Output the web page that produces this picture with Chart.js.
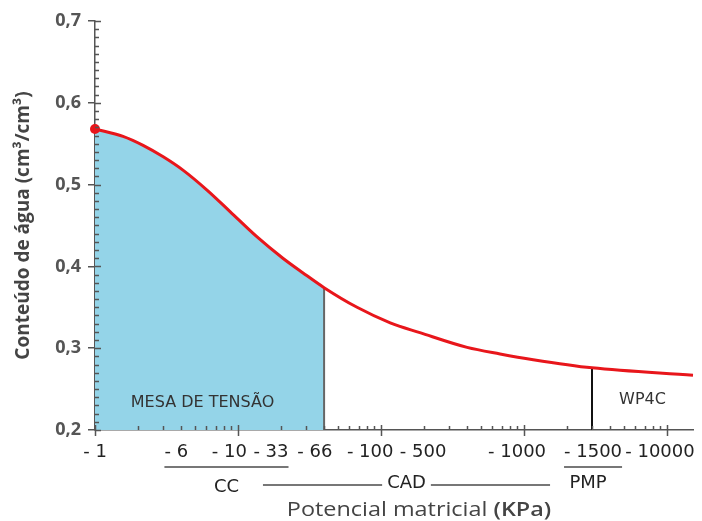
<!DOCTYPE html>
<html>
<head>
<meta charset="utf-8">
<title>Curva de retenção</title>
<script src="https://cdn.jsdelivr.net/npm/chart.js@4.4.1/dist/chart.umd.min.js"></script>
<style>
  body { margin: 0; background: #fff; }
  #grafico { display: block; }
</style>
</head>
<body>
<canvas id="grafico" width="702" height="521"></canvas>
<script>
// curva de retenção
const potencial = [1, 1.57, 2.17, 3, 4.1, 6.1, 8.8, 13.6, 20.6, 28.5, 40, 68, 116, 187, 400, 680, 1160, 2990, 15200];
const umidade = [0.568, 0.559, 0.548, 0.534, 0.518, 0.493, 0.467, 0.436, 0.410, 0.392, 0.374, 0.350, 0.331, 0.319, 0.301, 0.293, 0.286, 0.276, 0.267];

// limites das faixas de medida
const limiteMesa = 40;
const limiteWP4C = 2990;

// rótulos do eixo x e onde eles ficam no eixo
const rotulosX = ['- 1', '- 6', '- 10', '- 33', '- 66', '- 100', '- 500', '- 1000', '- 1500', '- 10000'];
const posRotulosX = [1, 3.7, 8.7, 17, 34.5, 84, 197, 894, 3040, 8930];
const yTicks = [0.2, 0.3, 0.4, 0.5, 0.6, 0.7];

const fonteX = '18px "DejaVu Sans"';
const corEixo = '#555';

const pontos = potencial.map((p, i) => ({ x: p, y: umidade[i] }));
const pontosMesa = pontos.filter(p => p.x <= limiteMesa);
const yMesa = umidade[potencial.indexOf(limiteMesa)];
const yWP4C = umidade[potencial.indexOf(limiteWP4C)];

//desenha marcas menores, textos e faixas CC / CAD / PMP
const extras = {
    id: 'extras',
    afterDatasetsDraw(chart) {
        const { ctx, chartArea: a, scales: { x, y } } = chart;
        ctx.save();
        ctx.strokeStyle = corEixo;
        ctx.lineWidth = 1.5;
        ctx.beginPath();
        for (let i = 0; i <= 50; i++) {
            const py = Math.round(y.getPixelForValue(yTicks[0] + i * 0.01)) + 0.5;
            const len = i % 10 === 0 ? 6 : 4;
            ctx.moveTo(a.left, py);
            ctx.lineTo(a.left + len, py);
        }
        for (let k = 0; k <= 4; k++) {
            for (let m = 1; m <= 9; m++) {
                const v = m * Math.pow(10, k);
                if (v > x.max) break;
                const px = Math.round(x.getPixelForValue(v)) + 0.5;
                if (m === 1) {
                    ctx.moveTo(px, a.bottom - 5);
                    ctx.lineTo(px, a.bottom + 6);
                } else {
                    ctx.moveTo(px, a.bottom - 4);
                    ctx.lineTo(px, a.bottom);
                }
            }
        }
        ctx.stroke();

        // textos das regiões
        ctx.fillStyle = '#333';
        ctx.textAlign = 'center';
        ctx.textBaseline = 'middle';
        ctx.font = '16px "DejaVu Sans"';
        const xMesa = x.getPixelForValue(limiteMesa);
        ctx.fillText('MESA DE TENSÃO', (a.left + xMesa) / 2 - 7, a.bottom - 27);
        const xW = x.getPixelForValue(limiteWP4C);
        ctx.font = '16px "DejaVu Sans"';
        ctx.fillText('WP4C', (xW + a.right) / 2, a.bottom - 30);

        // faixas abaixo dos rótulos
        ctx.font = fonteX;
        const esq = i => x.getPixelForValue(posRotulosX[i]) - ctx.measureText(rotulosX[i]).width / 2;
        const dir = i => x.getPixelForValue(posRotulosX[i]) + ctx.measureText(rotulosX[i]).width / 2;
        ctx.strokeStyle = '#777';
        ctx.lineWidth = 2;
        ctx.fillStyle = '#222';

        // CC
        const cc0 = esq(1), cc1 = dir(3);
        ctx.beginPath();
        ctx.moveTo(cc0, a.bottom + 37);
        ctx.lineTo(cc1, a.bottom + 37);
        ctx.stroke();
        ctx.fillText('CC', (cc0 + cc1) / 2, a.bottom + 57);

        // CAD
        const cad0 = x.getPixelForValue(posRotulosX[3]) - 8, cad1 = dir(7) + 4;
        const cadMeio = (cad0 + cad1) / 2;
        const wCad = ctx.measureText('CAD').width / 2 + 5;
        ctx.beginPath();
        ctx.moveTo(cad0, a.bottom + 55);
        ctx.lineTo(cadMeio - wCad, a.bottom + 55);
        ctx.moveTo(cadMeio + wCad, a.bottom + 55);
        ctx.lineTo(cad1, a.bottom + 55);
        ctx.stroke();
        ctx.fillText('CAD', cadMeio, a.bottom + 53);

        // PMP
        const p0 = esq(8), p1 = dir(8);
        ctx.beginPath();
        ctx.moveTo(p0, a.bottom + 37);
        ctx.lineTo(p1, a.bottom + 37);
        ctx.stroke();
        ctx.fillText('PMP', (p0 + p1) / 2 - 5, a.bottom + 53);

        // título do eixo x (um pouco esticado na horizontal, como no original)
        const t1 = 'Potencial matricial ';
        const t2 = '(KPa)';
        const esticar = 1.17;
        ctx.textBaseline = 'alphabetic';
        ctx.textAlign = 'left';
        ctx.fillStyle = '#444';
        ctx.font = '20px "Open Sans"';
        const w1 = ctx.measureText(t1).width;
        ctx.font = '600 20px "Open Sans"';
        const w2 = ctx.measureText(t2).width;
        const centro = (a.left + a.right) / 2 + 25;
        ctx.translate(centro - (w1 + w2) * esticar / 2, 516);
        ctx.scale(esticar, 1);
        ctx.font = '20px "Open Sans"';
        ctx.fillText(t1, 0, 0);
        ctx.font = '600 20px "Open Sans"';
        ctx.fillText(t2, w1, 0);
        ctx.restore();
    }
};

const ctx = document.getElementById('grafico').getContext('2d');
const grafico = new Chart(ctx, {
    type: 'line',
    data: {
        datasets: [{
            label: 'Curva',
            data: pontos,
            borderColor: '#e8161b',
            borderWidth: 3,
            pointRadius: c => c.dataIndex === 0 ? 5 : 0,
            pointBackgroundColor: '#e8161b',
            pointBorderWidth: 0,
            cubicInterpolationMode: 'monotone',
            fill: false,
            clip: false,
            order: 0
        },
        {
            label: 'Limite mesa',
            data: [{ x: limiteMesa, y: yTicks[0] }, { x: limiteMesa, y: yMesa }],
            borderColor: '#666',
            borderWidth: 2,
            pointRadius: 0,
            fill: false,
            order: 1
        },
        {
            label: 'Limite WP4C',
            data: [{ x: limiteWP4C, y: yTicks[0] }, { x: limiteWP4C, y: yWP4C }],
            borderColor: '#111',
            borderWidth: 2,
            pointRadius: 0,
            fill: false,
            order: 1
        },
        {
            label: 'Mesa de tensão',
            data: pontosMesa,
            borderWidth: 0,
            pointRadius: 0,
            backgroundColor: 'rgb(148, 212, 232)',
            cubicInterpolationMode: 'monotone',
            fill: 'start',
            order: 2
        }]
    },
    options: {
        responsive: false,
        animation: false,
        layout: { padding: { top: 21, right: 9, left: 0, bottom: 0 } },
        plugins: {
            legend: { display: false },
            tooltip: { enabled: false }
        },
        scales: {
            x: {
                type: 'logarithmic',
                min: 1,
                max: 15200,
                afterBuildTicks: s => { s.ticks = posRotulosX.map(v => ({ value: v })); },
                afterFit: s => { s.height = 91; },
                grid: { display: false },
                border: { color: corEixo, width: 1.5 },
                ticks: {
                    autoSkip: false,
                    maxRotation: 0,
                    padding: 4,
                    color: '#222',
                    font: { family: 'DejaVu Sans', size: 18 },
                    callback: (v, i) => rotulosX[i]
                }
            },
            y: {
                min: yTicks[0],
                max: yTicks[yTicks.length - 1],
                afterBuildTicks: s => { s.ticks = yTicks.map(v => ({ value: v })); },
                afterFit: s => { s.width = 95; },
                grid: { drawOnChartArea: false, tickLength: 7, color: corEixo, lineWidth: 1.5 },
                border: { color: corEixo, width: 1.5 },
                ticks: {
                    padding: 7,
                    color: '#555',
                    font: { family: 'Open Sans', size: 18, weight: 'bold' },
                    callback: v => v.toFixed(1).replace('.', ',')
                },
                title: {
                    display: true,
                    text: 'Conteúdo de água (cm³/cm³)',
                    color: '#444',
                    font: { family: 'Open Sans', size: 19, weight: 'bold' },
                    padding: { top: 12, bottom: 0 }
                }
            }
        }
    },
    plugins: [extras]
});
</script>
</body>
</html>
